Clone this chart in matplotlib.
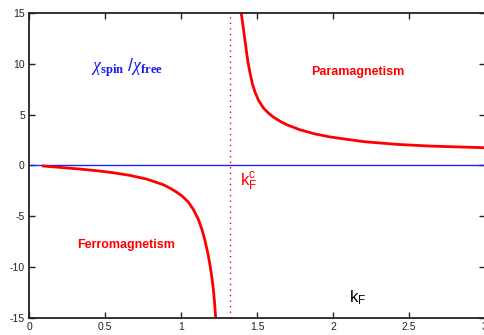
import matplotlib
matplotlib.use("Agg")
import matplotlib.pyplot as plt

# Valores: chi_spin/chi_free frente a k_F
kf_ferro = [0.094, 0.226, 0.336, 0.445, 0.555, 0.664, 0.774, 0.884, 0.93, 0.971,
            1.01, 1.048, 1.08, 1.114, 1.138, 1.158, 1.176, 1.191, 1.203, 1.213,
            1.221, 1.228, 1.232]
chi_ferro = [-0.06, -0.22, -0.36, -0.52, -0.72, -0.98, -1.34, -1.9, -2.25, -2.62,
             -3.05, -3.6, -4.3, -5.3, -6.3, -7.4, -8.6, -9.8, -11.0, -12.2,
             -13.5, -15.0, -15.5]
kf_para = [1.393, 1.395, 1.41, 1.428, 1.44, 1.454, 1.47, 1.487, 1.51, 1.542,
           1.575, 1.608, 1.651, 1.696, 1.74, 1.783, 1.88, 1.98, 2.2, 2.42,
           2.64, 3.0]
chi_para = [15.5, 15.1, 13.5, 11.5, 10.2, 9.1, 8.0, 7.2, 6.4, 5.65,
            5.15, 4.75, 4.35, 4.0, 3.75, 3.5, 3.1, 2.8, 2.34, 2.07,
            1.9, 1.74]
kf_c = 1.324

xticks = [0, 0.5, 1, 1.5, 2, 2.5, 3]
xticklabels = ["0", "0.5", "1", "1.5", "2", "2.5", "3"]
yticks = [-15, -10, -5, 0, 5, 10, 15]

plt.rcParams['font.family'] = ['Liberation Sans', 'DejaVu Sans']
plt.rcParams['axes.unicode_minus'] = False
plt.rcParams['mathtext.fontset'] = 'custom'
plt.rcParams['mathtext.rm'] = 'Liberation Sans'
plt.rcParams['mathtext.it'] = 'Liberation Serif:italic'
plt.rcParams['mathtext.bf'] = 'Liberation Serif:bold'

fig = plt.figure(figsize=(4.85, 3.35), dpi=100)
ax = fig.add_axes([0.0598, 0.0507, 0.9402, 0.911])

ax.axhline(0, color="#2020ff", lw=1.0)
ax.axvline(kf_c, color="red", lw=1.0, ls=(0, (1, 3)))
ax.plot(kf_ferro, chi_ferro, color="red", lw=2.0, solid_joinstyle="round")
ax.plot(kf_para, chi_para, color="red", lw=2.0, solid_joinstyle="round")

ax.set_xlim(0, 3)
ax.set_ylim(-15, 15)
ax.set_xticks(xticks)
ax.set_xticklabels(xticklabels)
ax.set_yticks(yticks)
ax.tick_params(direction="in", length=4, width=1, labelsize=7.5, colors="#222222",
               top=True, right=True, pad=3)
for s in ax.spines.values():
    s.set_linewidth(1.3)
    s.set_color("#222222")

ax.text(0.645, 9.6, r"$\chi_{\mathbf{spin}}\ /\chi_{\mathbf{free}}$",
        color="#1a1aee", fontsize=13, ha="center", va="center")
ax.text(2.16, 9.2, "Paramagnetism", color="red", fontsize=9, fontweight="bold",
        ha="center", va="center")
ax.text(0.64, -7.85, "Ferromagnetism", color="red", fontsize=9, fontweight="bold",
        ha="center", va="center")
ax.text(1.385, -1.6, r"k$_\mathrm{F}^\mathrm{c}$", color="red", fontsize=12,
        ha="left", va="center")
ax.text(2.16, -13.0, r"k$_\mathrm{F}$", color="black", fontsize=12,
        ha="center", va="center")

fig.savefig("out.png", dpi=100)
